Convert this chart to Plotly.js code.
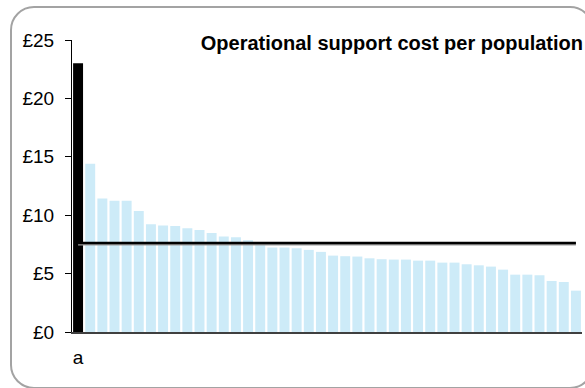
<!DOCTYPE html>
<html>
<head>
<meta charset="utf-8">
<script src="https://cdn.plot.ly/plotly-3.0.1.min.js"></script>
<style>
  html, body { margin: 0; padding: 0; background: #ffffff; overflow: hidden; }
  #wrap { position: relative; width: 585px; height: 388px; overflow: hidden; }
  #frame { position: absolute; left: 10px; top: 6px; width: 584px; height: 383px;
           border: 2px solid #a3a3a3; border-radius: 24px; box-sizing: border-box; }
  #chart { position: absolute; left: 0; top: 0; width: 585px; height: 388px; }
</style>
</head>
<body>
<div id="wrap">
  <div id="frame"></div>
  <div id="chart"></div>
</div>
<script>
// Operational support cost per population (£), sorted descending; first bar highlighted
const categories = ["a","b","c","d","e","f","g","h","i","j","k","l","m","n","o","p","q","r","s","t","u",
                    "v","w","x","y","z","aa","ab","ac","ad","ae","af","ag","ah","ai","aj","ak","al","am","an","ao","ap"];
const tickLabels = ["a"];
const costValues = [23.0, 14.4, 11.43, 11.23, 11.23, 10.37, 9.23, 9.11, 9.08, 8.89, 8.74,
                    8.48, 8.17, 8.11, 7.86, 7.6, 7.23, 7.23, 7.17, 7.03, 6.86,
                    6.54, 6.49, 6.46, 6.31, 6.23, 6.2, 6.2, 6.11, 6.11, 5.94,
                    5.94, 5.8, 5.71, 5.6, 5.34, 4.91, 4.91, 4.86, 4.37, 4.28, 3.54];
const averageValue = 7.63;
const highlightIndex = 0;
const yTickValues = [0, 5, 10, 15, 20, 25];
const yTickLabels = ["£0", "£5", "£10", "£15", "£20", "£25"];

const idx = categories.map((c, i) => i);
const barColors = idx.map(i => i === highlightIndex ? "#000000" : "#cdebf8");

const bars = {
  type: "bar",
  x: idx,
  y: costValues,
  marker: { color: barColors, line: { width: 0 } },
  hoverinfo: "skip",
  showlegend: false
};
const avgShadow = {
  type: "scatter", mode: "lines",
  x: idx, y: idx.map(() => averageValue - 0.13),
  line: { color: "#9a9a9a", width: 2 },
  hoverinfo: "skip", showlegend: false
};
const avgLine = {
  type: "scatter", mode: "lines",
  x: idx, y: idx.map(() => averageValue),
  line: { color: "#000000", width: 2.5 },
  hoverinfo: "skip", showlegend: false
};

const layout = {
  width: 585, height: 388,
  margin: { l: 72, r: 3, t: 40, b: 56, pad: 0 },
  paper_bgcolor: "rgba(0,0,0,0)",
  plot_bgcolor: "rgba(0,0,0,0)",
  bargap: 0.18,
  font: { family: "Liberation Sans, Arial, sans-serif", color: "#000000" },
  title: {
    text: "<b>Operational support cost per population</b>",
    font: { size: 20, family: "Liberation Sans, Arial, sans-serif", color: "#000000" },
    x: 583 / 585, xref: "container", xanchor: "right",
    y: 1 - 43 / 388, yref: "container", yanchor: "middle"
  },
  xaxis: {
    range: [-0.5, categories.length - 0.5],
    tickmode: "array", tickvals: [highlightIndex], ticktext: tickLabels,
    ticks: "", showgrid: false, zeroline: false,
    showline: true, linecolor: "#404040", linewidth: 1.5,
    tickfont: { size: 19 }, ticklabelstandoff: 8
  },
  yaxis: {
    range: [0, 25],
    tickmode: "array", tickvals: yTickValues, ticktext: yTickLabels,
    ticks: "outside", ticklen: 6, tickcolor: "#000000", tickwidth: 1,
    showgrid: false, zeroline: false,
    showline: true, linecolor: "#000000", linewidth: 1,
    tickfont: { size: 19 }, ticklabelstandoff: 7
  }
};

Plotly.newPlot("chart", [bars, avgShadow, avgLine], layout, { displayModeBar: false, staticPlot: true });
</script>
</body>
</html>
